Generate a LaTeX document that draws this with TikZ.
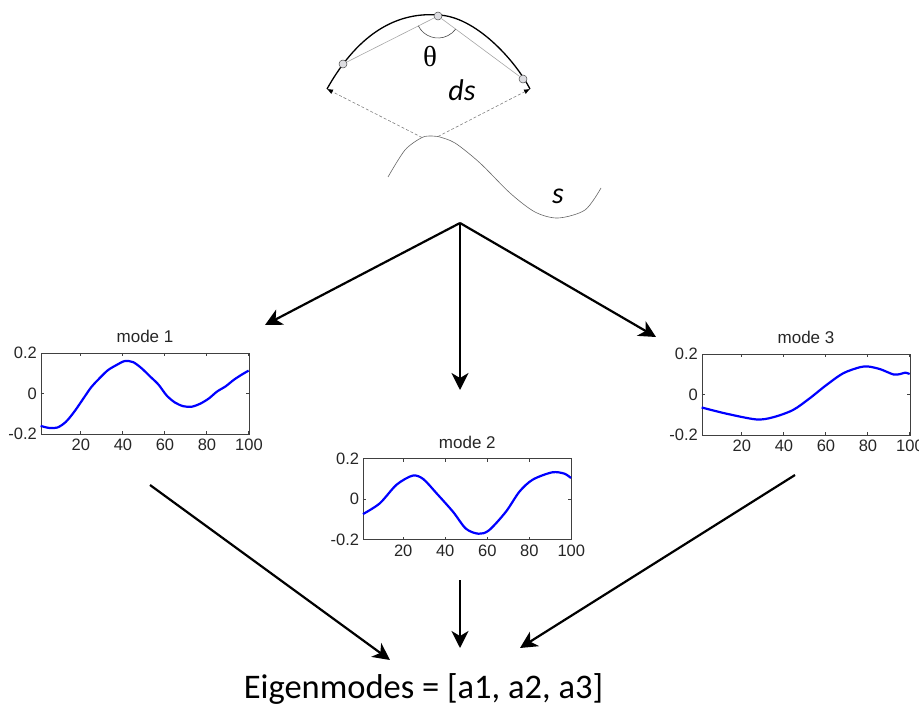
\documentclass[tikz,border=0pt]{standalone}
\usepackage{fontspec}
\setmainfont{Carlito}
\newfontfamily\plotfont{Liberation Sans}
\newfontfamily\symfont{Liberation Serif}
\usetikzlibrary{arrows.meta,positioning}
\newcommand{\plotw}{208}
\newcommand{\ploth}{81}

\begin{document}
\begin{tikzpicture}[
  x=1pt, y=-1pt,
  flow/.style={-{Stealth[length=17pt,width=17pt,inset=5pt]}, line width=2.2pt},
  guide/.style={draw=gray, dash pattern=on 3pt off 2pt, line width=0.6pt,
                -{Latex[length=6pt,width=5pt,color=black]}},
  joint/.style={draw=gray!60!black, circle, fill=blue!6!gray!25, inner sep=0pt,
                minimum size=8pt, line width=0.5pt},
  chord/.style={draw=gray!70, line width=0.6pt},
  axbox/.style={draw=black!75, line width=0.7pt, minimum width=\plotw pt,
                minimum height=\ploth pt, inner sep=0pt},
  ticklab/.style={font=\plotfont\fontsize{16.5}{17}\selectfont, text=black!85, inner sep=0pt},
  plottitle/.style={font=\plotfont\fontsize{17}{18}\selectfont, text=black!85, inner sep=0pt},
  modeaxes/.style={shift={(#1.west)}, xscale=\plotw/99, yscale=-\ploth/0.4},
  curve/.style={blue, line width=2.2pt, line join=round}
]
  \useasboundingbox (0,0) rectangle (919,706);

  % element sketch
  \coordinate (aL) at (327,89);
  \coordinate (aR) at (530,89);
  \coordinate (top) at (438,15);
  \draw[line width=1.3pt] (aL) .. controls (360,30) and (400,12) .. (top)
        .. controls (475,16) and (515,60) .. (aR);
  \node[joint] (pL) at (343,64) {};
  \node[joint] (pT) at (438,16) {};
  \node[joint] (pR) at (523,79) {};
  \draw[chord] (pL) -- (pT) -- (pR);
  \draw[gray!60!black, line width=0.6pt] ([shift={(153.7:22)}]pT.center) arc[start angle=153.7, end angle=36.5, radius=22];
  \node[font=\symfont\fontsize{29}{30}\selectfont] (theta) at (430,57) {θ};
  \node[font=\itshape\fontsize{30}{32}\selectfont] (ds) at (462,90) {ds};

  % the curve s
  \draw[gray!80!black, line width=0.6pt] plot[smooth] coordinates {(388,177) (405,150) (422,137.5)
        (432,136) (438,136.5) (455,143) (480,163) (510,193) (535,212) (558,218) (585,210) (601,188)};
  \coordinate (footL) at (422,137.5);
  \coordinate (footR) at (438,136.5);
  \node[font=\itshape\fontsize{30}{32}\selectfont] (s) at (558,196) {s};
  \draw[guide] (footL) -- (aL);
  \draw[guide] (footR) -- (aR);

  % plots
  \foreach \n/\px/\py/\lab in {m1/145/393.5/mode 1, m2/467.3/499.3/mode 2, m3/806/394.7/mode 3} {
    \node[axbox] (\n) at (\px,\py) {};
    \node[plottitle, above=10pt of \n] (\n-title) {\lab};
    \foreach \t in {20,40,60,80,100} {
      \pgfmathsetmacro\tx{\px-\plotw/2+(\t-1)/99*\plotw}
      \node[ticklab, anchor=north] at (\tx,\py+\ploth/2+5) {\t};
    }
    \foreach \v/\vl in {-1/0.2, 0/0, 1/-0.2}
      \node[ticklab, anchor=east] at (\px-\plotw/2-4,\py+\v*\ploth/2) {\vl};
    \begin{scope}[modeaxes=\n]
      \foreach \t in {20,40,60,80,100}
        \draw[black!75, line width=0.6pt] (\t-1,-0.2) -- ++(0,0.015) (\t-1,0.2) -- ++(0,-0.015);
      \draw[black!75, line width=0.6pt] (0,0) -- ++(1.4,0) (99,0) -- ++(-1.4,0);
    \end{scope}
  }
  \begin{scope}[modeaxes=m1]
    \draw[curve] plot[smooth] coordinates {(0,-0.16) (4,-0.17) (8,-0.168) (12,-0.14) (16,-0.09)
      (20,-0.03) (24,0.03) (28,0.075) (32,0.115) (36,0.14) (40,0.16) (44,0.155) (48,0.125)
      (52,0.085) (56,0.045) (60,-0.01) (64,-0.045) (68,-0.063) (72,-0.065) (76,-0.05)
      (80,-0.025) (84,0.01) (88,0.035) (92,0.068) (96,0.095) (99,0.113)};
  \end{scope}
  \begin{scope}[modeaxes=m2]
    \draw[curve] plot[smooth] coordinates {(0,-0.073) (8,-0.02) (16,0.072) (23.7,0.117)
      (28.7,0.1) (35,0.03) (42.9,-0.062) (49,-0.145) (55,-0.17) (60,-0.153) (68,-0.062)
      (74.5,0.038) (80.8,0.097) (90,0.133) (95.8,0.127) (99,0.105)};
  \end{scope}
  \begin{scope}[modeaxes=m3]
    \draw[curve] plot[smooth] coordinates {(0,-0.063) (11.5,-0.093) (25.9,-0.122) (33.8,-0.112)
      (43.4,-0.076) (51.4,-0.018) (59.4,0.048) (67.4,0.106) (75.4,0.136) (79.4,0.139)
      (85,0.126) (91.3,0.1) (94.5,0.102) (97,0.109) (99,0.102)};
  \end{scope}

  % result
  \node[font=\fontsize{34.5}{38}\selectfont, anchor=base, inner sep=0pt] (eig) at (423.5,698)
        {Eigenmodes = [a1, a2, a3]};

  % arrows
  \coordinate (split) at (460,223);
  \coordinate (in1) at (265,325);
  \coordinate (in2) at (460,390);
  \coordinate (in3) at (656,337);
  \coordinate (out1) at (150,485);
  \coordinate (out2) at (460,580);
  \coordinate (out3) at (795,475);
  \coordinate (to1) at (390,660);
  \coordinate (to2) at (460,648);
  \coordinate (to3) at (520,648);
  \foreach \i in {1,2,3} {
    \draw[flow] (split) -- (in\i);
    \draw[flow] (out\i) -- (to\i);
  }
\end{tikzpicture}
\end{document}
